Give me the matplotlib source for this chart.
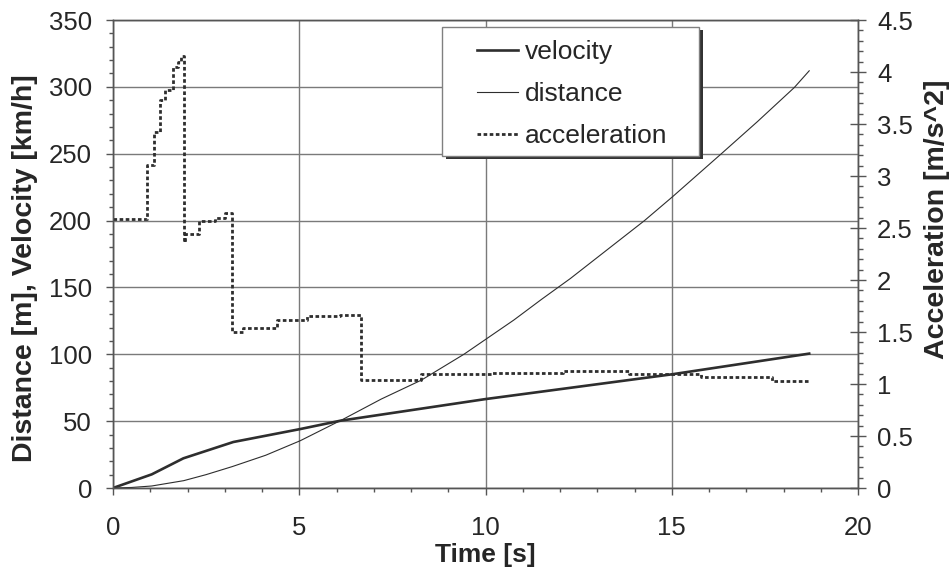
import matplotlib.pyplot as plt
from matplotlib.patches import Rectangle
from matplotlib.ticker import MultipleLocator, FormatStrFormatter

plt.rcParams['font.family'] = ['Liberation Sans', 'DejaVu Sans']

# velocity [km/h]
vel_t = [0, 1.04, 1.89, 3.23, 5.03, 6.1, 10.0, 15.0, 18.69]
vel_v = [0, 10.2, 22.2, 34.4, 44.1, 50.3, 66.5, 85.0, 100.5]

# distance [m]
dist_t = [0, 0.5, 1.04, 1.9, 2.5, 3.2, 4.1, 5.03, 6.19, 7.2, 8.28, 9.42, 10.76,
          11.5, 12.28, 14.26, 15.02, 16.32, 17.3, 18.29, 18.69]
dist_d = [0, 0.4, 1.5, 5.5, 10.0, 16.0, 24.5, 35.4, 51.6, 66.5, 80.7, 100, 125.6,
          141, 156.7, 199.8, 217.8, 249.7, 274, 299.5, 312]

# acceleration [m/s^2], stepped
acc_t = [0, 0.9, 1.1, 1.27, 1.4, 1.6, 1.74, 1.83, 1.91, 1.94, 2.3, 2.75, 3.0, 3.2, 3.5,
         4.4, 5.2, 6.1, 6.67, 8.28, 10.18, 12.07, 13.85, 15.78, 17.7, 18.69]
acc_a = [2.59, 3.11, 3.42, 3.73, 3.83, 4.05, 4.10, 4.15, 2.37, 2.44, 2.57, 2.60, 2.64, 1.50, 1.54,
         1.62, 1.65, 1.66, 1.04, 1.10, 1.11, 1.125, 1.10, 1.065, 1.03, 1.03]

ink = '#2e2e2e'
txt = '#262626'
W, H = 951, 571

fig = plt.figure(figsize=(9.51, 5.71), dpi=100)
ax = fig.add_axes([113 / W, 1 - 488 / H, 745 / W, 468 / H])
ax2 = ax.twinx()

l1, = ax.plot(vel_t, vel_v, color=ink, lw=1.9, label='velocity')
l2, = ax.plot(dist_t, dist_d, color=ink, lw=0.8, label='distance')
l3, = ax2.plot(acc_t, acc_a, color=ink, lw=2.0, ls=(0, (1.3, 0.9)),
               drawstyle='steps-post', label='acceleration')

ax.set_xlim(0, 20)
ax.set_ylim(0, 350)
ax2.set_ylim(0, 4.5)

ax.xaxis.set_major_locator(MultipleLocator(5))
ax.xaxis.set_minor_locator(MultipleLocator(1))
ax.yaxis.set_major_locator(MultipleLocator(50))
ax.yaxis.set_minor_locator(MultipleLocator(10))
ax2.yaxis.set_major_locator(MultipleLocator(0.5))
ax2.yaxis.set_minor_locator(MultipleLocator(0.1))
ax2.yaxis.set_major_formatter(FormatStrFormatter('%g'))

ax.grid(True, which='major', color='#7a7a7a', lw=1.0)
ax.set_axisbelow(True)

ax.tick_params(axis='x', which='major', direction='out', length=5, width=1, color='#555',
               labelsize=18.5, labelcolor=txt, pad=15)
ax.tick_params(axis='y', which='major', direction='out', length=5, width=1, color='#555',
               labelsize=18.5, labelcolor=txt, pad=10)
ax.tick_params(which='minor', direction='out', length=3, width=1, color='#555')
ax2.tick_params(which='major', direction='inout', length=11.5, width=1, color='#555',
                labelsize=18.5, labelcolor=txt, pad=8)
ax2.tick_params(which='minor', direction='out', length=3.5, width=1, color='#555')

for a in (ax, ax2):
    for s in a.spines.values():
        s.set_color('#555')
        s.set_linewidth(1)

ax.set_xlabel('Time [s]', fontsize=19, fontweight='bold', color=txt, labelpad=2)
ax.set_ylabel('Distance [m], Velocity [km/h]', fontsize=20.5, fontweight='bold', color=txt, labelpad=5)
ax.yaxis.set_label_coords(-0.101, 0.469)
ax2.set_ylabel('Acceleration [m/s^2]', fontsize=20.5, fontweight='bold', color=txt, labelpad=5)
ax2.yaxis.set_label_coords(1.088, 0.574)

# legend frame with a hard shadow, drawn at figure level above the axes
bx0, by0, bx1, by1 = 442, 27, 699, 156
fig.add_artist(Rectangle(((bx0 + 4) / W, 1 - (by1 + 3) / H), (bx1 - bx0) / W, (by1 - by0) / H,
                         transform=fig.transFigure, facecolor='#333333', edgecolor='none', zorder=2))
fig.add_artist(Rectangle((bx0 / W, 1 - by1 / H), (bx1 - bx0) / W, (by1 - by0) / H,
                         transform=fig.transFigure, facecolor='white', edgecolor='#808080',
                         lw=1, zorder=3))
leg = fig.legend(handles=[l1, l2, l3], loc='upper left', bbox_to_anchor=(477 / W, 1 - 40.5 / H),
                 bbox_transform=fig.transFigure, frameon=False, borderpad=0, borderaxespad=0,
                 fontsize=19, handlelength=1.55, handletextpad=0.27, labelspacing=0.68)
leg.set_zorder(5)
for t in leg.get_texts():
    t.set_color(txt)

fig.savefig('out.png', dpi=100)
